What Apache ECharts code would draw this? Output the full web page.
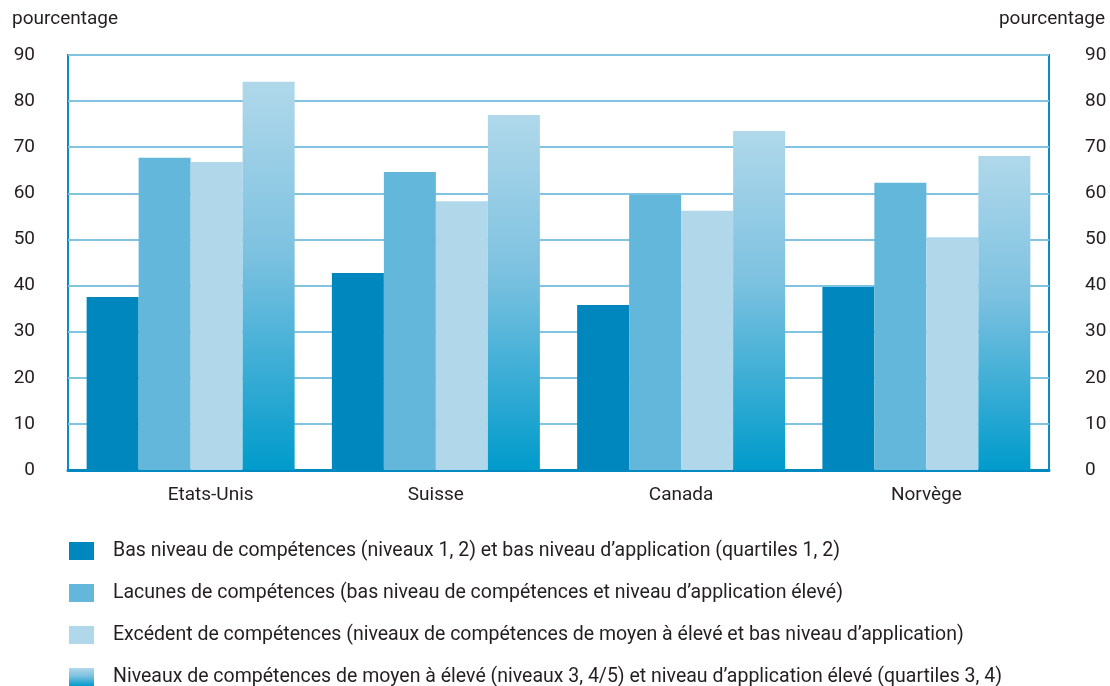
<!DOCTYPE html>
<html>
<head>
<meta charset="utf-8">
<script src="https://cdn.jsdelivr.net/npm/echarts@6/dist/echarts.min.js"></script>
<style>
  html, body { margin: 0; padding: 0; background: #fff; }
  #main { width: 1110px; height: 686px; }
</style>
</head>
<body>
<div id="main"></div>
<script>
// données
var pays = ['Etats-Unis', 'Suisse', 'Canada', 'Norvège'];
var basNiveau = [37.5, 42.7, 35.8, 39.7];
var lacunes = [67.7, 64.6, 59.7, 62.3];
var excedent = [66.8, 58.3, 56.2, 50.5];
var moyenEleve = [84.2, 77.0, 73.5, 68.1];
var yTicks = [0, 10, 20, 30, 40, 50, 60, 70, 80, 90];

var noms = [
  'Bas niveau de compétences (niveaux 1, 2) et bas niveau d’application (quartiles 1, 2)',
  'Lacunes de compétences (bas niveau de compétences et niveau d’application élevé)',
  'Excédent de compétences (niveaux de compétences de moyen à élevé et bas niveau d’application)',
  'Niveaux de compétences de moyen à élevé (niveaux 3, 4/5) et niveau d’application élevé (quartiles 3, 4)'
];

const font = "'Liberation Sans Narrow', 'Roboto', sans-serif";
const txt = '#231f20';
const axisBlue = '#0a8bc2';

var chart = echarts.init(document.getElementById('main'));

var yAxe = function (pos) {
  return {
    type: 'value',
    position: pos,
    min: yTicks[0],
    max: yTicks[yTicks.length - 1],
    interval: 10,
    axisLine: { show: false },
    axisTick: { show: false },
    splitLine: {
      show: pos === 'left',
      lineStyle: { color: '#80c4e2', width: 2 }
    },
    axisLabel: {
      color: txt,
      fontFamily: font,
      fontSize: 19,
      margin: pos === 'left' ? 33 : 36,
      align: pos === 'left' ? 'right' : 'left'
    }
  };
};

chart.setOption({
  animation: false,
  textStyle: { fontFamily: font },
  grid: {
    left: 68, right: 61, top: 55, bottom: 216,
    show: true,
    borderColor: axisBlue,
    borderWidth: 2
  },
  graphic: [
    { type: 'text', left: 12, top: 10,
      style: { text: 'pourcentage', fill: txt, font: '19px ' + font } },
    { type: 'text', right: 5, top: 10,
      style: { text: 'pourcentage', fill: txt, font: '19px ' + font } }
  ],
  legend: {
    orient: 'vertical',
    left: 64,
    top: 536,
    height: 200,
    itemWidth: 25,
    itemHeight: 18,
    itemGap: 22,
    icon: 'rect',
    textStyle: { color: txt, fontFamily: font, fontSize: 19.5, padding: [0, 0, 0, 14] },
    data: noms
  },
  xAxis: {
    type: 'category',
    data: pays.map(function (p, i) {
      return i === 0 ? { value: p, textStyle: { padding: [0, 0, 0, 40] } } : p;
    }),
    axisLine: { lineStyle: { color: '#0088c0', width: 3 } },
    axisTick: { show: false },
    axisLabel: { color: txt, fontFamily: font, fontSize: 19, margin: 16 }
  },
  yAxis: [yAxe('left'), yAxe('right')],
  series: [
    { name: noms[0], type: 'bar', data: basNiveau, barWidth: 52, barGap: '0%',
      itemStyle: { color: '#0087be' } },
    { name: noms[1], type: 'bar', data: lacunes, barWidth: 52,
      itemStyle: { color: '#62b7da' } },
    { name: noms[2], type: 'bar', data: excedent, barWidth: 52,
      itemStyle: { color: '#b0d8ea' } },
    { name: noms[3], type: 'bar', data: moyenEleve, barWidth: 52,
      itemStyle: {
        color: new echarts.graphic.LinearGradient(0, 0, 0, 1, [
          { offset: 0, color: '#b0d8ea' },
          { offset: 0.45, color: '#7cc1e0' },
          { offset: 1, color: '#009bcb' }
        ])
      } }
  ]
});
</script>
</body>
</html>
